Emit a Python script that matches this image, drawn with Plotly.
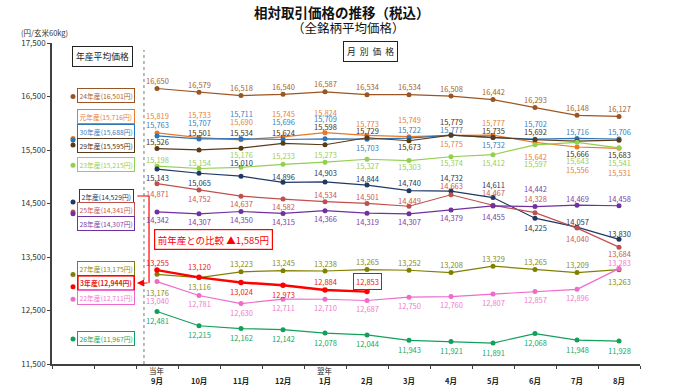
import plotly.graph_objects as go

# ---------------- data ----------------
months_top = ["当年", "", "", "", "翌年", "", "", "", "", "", "", ""]
months = ["9月", "10月", "11月", "12月", "1月", "2月", "3月", "4月", "5月", "6月", "7月", "8月"]

names = ["24年産", "元年産", "30年産", "29年産", "23年産", "2年産",
         "25年産", "28年産", "27年産", "3年産", "22年産", "26年産"]
averages = [16501, 15716, 15688, 15595, 15215, 14529, 14341, 14307, 13175, 12944, 12711, 11967]

v24 = [16650, 16579, 16518, 16540, 16587, 16534, 16534, 16508, 16442, 16293, 16148, 16127]
vR1 = [15819, 15733, 15690, 15745, 15824, 15773, 15749, 15775, 15777, 15642, 15556, 15531]
v30 = [15763, 15707, 15711, 15696, 15709, 15703, 15722, 15777, 15732, 15702, 15716, 15706]
v29 = [15526, 15501, 15534, 15624, 15598, 15729, 15673, 15779, 15735, 15692, 15666, 15683]
v23 = [15198, 15154, 15176, 15233, 15273, 15327, 15303, 15374, 15412, 15597, 15643, 15541]
vR2 = [15143, 15065, 15010, 14896, 14903, 14844, 14740, 14732, 14611, 14225, 14057, 13830]
v25 = [14871, 14752, 14637, 14582, 14534, 14501, 14449, 14663, 14467, 14328, 14040, 13684]
v28 = [14342, 14307, 14350, 14315, 14366, 14319, 14307, 14379, 14455, 14442, 14469, 14458]
v27 = [13176, 13116, 13223, 13245, 13238, 13265, 13252, 13208, 13329, 13265, 13209, 13263]
vR3 = [13255, 13120, 13024, 12973, 12884, 12853]
v22 = [13040, 12781, 12630, 12711, 12710, 12687, 12750, 12760, 12807, 12857, 12896, 13283]
v26 = [12481, 12215, 12162, 12142, 12078, 12044, 11943, 11921, 11891, 12068, 11948, 11928]

series_values = [v24, vR1, v30, v29, v23, vR2, v25, v28, v27, vR3, v22, v26]
comparison_text = "前年産との比較 ▲1,585円"

# ---------------- styles / positions ----------------
colors = ["#9B5523", "#E8782A", "#2E75B6", "#5B3A1A", "#92D050", "#1F3864",
          "#C0504D", "#7030A0", "#808000", "#FF0000", "#F06ACB", "#12A05A"]
label_colors = ["#A8652E", "#E8823A", "#3A80C0", "#4A3018", "#9ACD5A", "#1F3864",
                "#C85A55", "#7B3FA8", "#8A8A20", "#E82020", "#F47AD0", "#20A860"]
line_widths = [1.2, 1.2, 1.2, 1.2, 1.2, 1.2, 1.2, 1.2, 1.2, 2.4, 1.2, 1.2]
# label offsets (px, + = below marker)
label_dy = [
    [-8] * 12,
    [-17, -23, -18, -23, -20, -12, -17, 8, -13, 14, 22, 24],
    [-11, -16, -25, -18, -20, 8, -9, -6, 7, -16, -7, -7],
    [-7, -17, -16, -11, -18, -7, 6, -14, -7, -8, 12, 14],
    [-7, -6, -13, -9, -8, 6, 6, 6, 8, 19, 18, 15],
    [8, 9, -14, -6, -9, -7, -8, -14, -13, 9, -6, -6],
    [10, 8, 7, 7, -7, -7, -6, -9, -13, -14, 10, 6],
    [8, 8, 8, 8, 8, 8, 8, 8, 11, -18, -7, -7],
    [18, 9, -8, -8, -8, -8, -8, -8, -8, -8, -8, 12],
    [-8, -11, 9, 9, -8, -10],
    [19, 8, 9, 8, 8, 8, 8, 8, 8, 8, 8, -6],
    [9] * 12,
]
box_y = [16528, 16117, 15855, 15593, 15220, 14640, 14379, 14117, 13276, 13014, 12734, 11986]
AVG_X = -2.0
BOX_X = -1.21

W, H = 686, 386
ML, MR, MT, MB = 52, 46, 43, 22
PW, PH = W - ML - MR, H - MT - MB


def px_x(p):
    return (p - ML) / PW


def px_y(p):
    return (H - MB - p) / PH


FONT = "Noto Sans CJK JP, Noto Sans, sans-serif"

fig = go.Figure()

# annual average markers
for n, a, c in zip(names, averages, colors):
    fig.add_trace(go.Scatter(x=[AVG_X], y=[a], mode="markers",
                             marker=dict(size=5, color=c), showlegend=False,
                             hoverinfo="skip"))

# monthly lines
order = [0, 1, 2, 3, 4, 5, 6, 7, 8, 10, 11, 9]
for k in order:
    vals = series_values[k]
    fig.add_trace(go.Scatter(x=list(range(len(vals))), y=vals, mode="lines+markers",
                             line=dict(color=colors[k], width=line_widths[k]),
                             marker=dict(size=5 if k != 9 else 5.5, color=colors[k]),
                             name=names[k], showlegend=False))

annotations = []
# data labels
for k, vals in enumerate(series_values):
    for i, v in enumerate(vals):
        boxed = (k == 9 and i == len(vals) - 1)
        annotations.append(dict(
            x=i, y=v, xref="x", yref="y", text=f"{v:,}", showarrow=False,
            xanchor="center", yanchor="middle",
            yshift=-label_dy[k][i],
            font=dict(family=FONT, size=7.5, color=label_colors[k]),
            bordercolor="#FF0000" if boxed else None, borderwidth=1 if boxed else 0,
            borderpad=2 if boxed else 0, bgcolor="white" if boxed else None))

# annual average boxes
for k, (n, a) in enumerate(zip(names, averages)):
    annotations.append(dict(
        x=BOX_X, y=box_y[k], xref="x", yref="y",
        xanchor="center", yanchor="middle",
        text=(f"<b>{n}({a:,}円)</b>" if k == 9 else f"{n}({a:,}円)"),
        showarrow=False, font=dict(family=FONT, size=6.8, color=label_colors[k]),
        bordercolor=colors[k], borderwidth=1.6 if k == 9 else 1, borderpad=1.5,
        bgcolor="white"))


def paper_text(px, py, text, size, color, **kw):
    d = dict(x=px_x(px), y=px_y(py), xref="paper", yref="paper", text=text,
             showarrow=False, xanchor="center", yanchor="middle",
             font=dict(family=FONT, size=size, color=color))
    d.update(kw)
    return d


# header boxes
annotations.append(paper_text(102, 56, "年産平均価格", 8.8, "#222",
                              bordercolor="#222", borderwidth=1, borderpad=3, bgcolor="white"))
annotations.append(paper_text(370, 51, "月  別  価  格", 8.8, "#222",
                              bordercolor="#222", borderwidth=1, borderpad=3, bgcolor="white"))
annotations.append(paper_text(213, 239, comparison_text, 9.5, "#FF0000",
                              bordercolor="#FF0000", borderwidth=1.2, borderpad=2.5,
                              bgcolor="white"))

# titles
annotations.append(paper_text(342, 12, "<b>相対取引価格の推移（税込）</b>", 13.5, "#111"))
annotations.append(paper_text(348, 27, "（全銘柄平均価格）", 12.5, "#111"))
annotations.append(paper_text(44, 32, "(円/玄米60kg)", 7.5, "#333"))

# month labels
for i, (t, m) in enumerate(zip(months_top, months)):
    if t:
        annotations.append(dict(x=i, y=px_y(371), xref="x", yref="paper", text=t,
                                showarrow=False, xanchor="center", yanchor="middle",
                                font=dict(family=FONT, size=7.5, color="#222")))
    annotations.append(dict(x=i, y=px_y(381), xref="x", yref="paper", text=f"<b>{m}</b>",
                            showarrow=False, xanchor="center", yanchor="middle",
                            font=dict(family=FONT, size=7.5, color="#222")))

# comparison connector arrow (ends at the 3年産 box)
annotations.append(dict(x=-0.48, y=box_y[9], ax=-0.19, ay=box_y[9], xref="x", yref="y",
                        axref="x", ayref="y", text="", showarrow=True, arrowhead=2,
                        arrowsize=1.2, arrowwidth=1.2, arrowcolor="#FF0000"))

shapes = [
    dict(type="line", xref="x", yref="paper", x0=-0.31, x1=-0.31, y0=0, y1=px_y(50),
         line=dict(color="#777", width=1, dash="dot")),
    dict(type="path", xref="x", yref="y",
         path=f"M -0.47 {box_y[5]} L -0.19 {box_y[5]} L -0.19 {box_y[9]}",
         line=dict(color="#FF0000", width=1.2)),
]

fig.update_layout(
    width=W, height=H, margin=dict(l=ML, r=MR, t=MT, b=MB),
    paper_bgcolor="white", plot_bgcolor="white",
    font=dict(family=FONT),
    xaxis=dict(range=[-2.5, 11.5], tickvals=[i - 0.5 for i in range(-2, 13)],
               showticklabels=False, ticks="outside", ticklen=3, tickcolor="#404040",
               showline=True, linecolor="#404040", linewidth=1.5,
               showgrid=False, zeroline=False, fixedrange=True),
    yaxis=dict(range=[11500, 17500], tickvals=list(range(11500, 17501, 1000)),
               tickformat=",", ticks="outside", ticklen=3, tickcolor="#404040",
               tickfont=dict(size=8, color="#333", family=FONT),
               showline=True, linecolor="#404040", linewidth=1.5,
               showgrid=False, zeroline=False, fixedrange=True),
    annotations=annotations, shapes=shapes, showlegend=False,
)

fig.write_html("out.html", config={"displayModeBar": False},
               post_script="document.body.style.margin='0';document.body.style.overflow='hidden';")
